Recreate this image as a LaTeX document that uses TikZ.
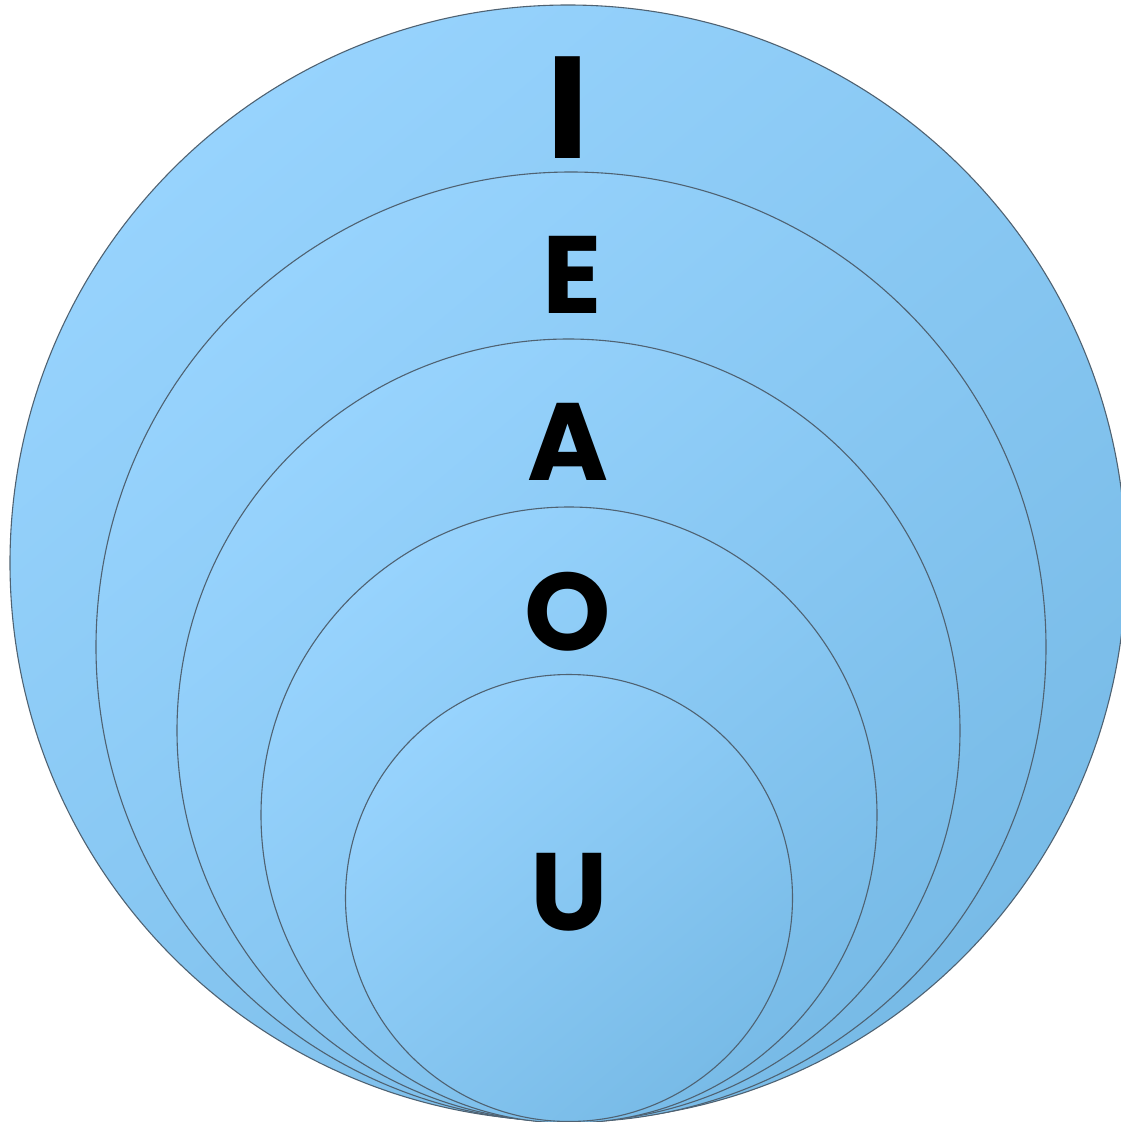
\documentclass[tikz,border=0pt]{standalone}
\usepackage{fontspec}
\newfontfamily\pop{Poppins}[UprightFont=* Bold]
\definecolor{lightb}{HTML}{97D3FD}
\definecolor{darkb}{HTML}{78BBE7}
\definecolor{edge}{HTML}{4F6272}
\tikzset{
  ring/.style={draw=edge, line width=1.1pt, shading=axis, top color=lightb, middle color=lightb!85!darkb, bottom color=darkb, shading angle=40},
  letter/.style={anchor=base, inner sep=0pt, text=black, font=\pop}
}
\begin{document}
\begin{tikzpicture}[x=1pt,y=-1pt]
\useasboundingbox (0,0) rectangle (1120,1122);
\path[ring] (568,563) circle[radius=558];
\path[ring] (571,647) circle[radius=475];
\path[ring] (568.5,730.5) circle[radius=391.5];
\path[ring] (569,815) circle[radius=308];
\path[ring] (569,898) circle[radius=223.5];
\node[letter, font=\pop\fontsize{145}{145}\selectfont] (i) at (568,158) {I};
\node[letter, font=\pop\fontsize{110}{110}\selectfont] (e) at (572,313) {E};
\node[letter, font=\pop\fontsize{110}{110}\selectfont] (a) at (568,480) {A};
\node[letter, font=\pop\fontsize{110}{110}\selectfont] (o) at (568,650) {O};
\node[letter, font=\pop\fontsize{110}{110}\selectfont] (u) at (569,930) {U};
\end{tikzpicture}
\end{document}
